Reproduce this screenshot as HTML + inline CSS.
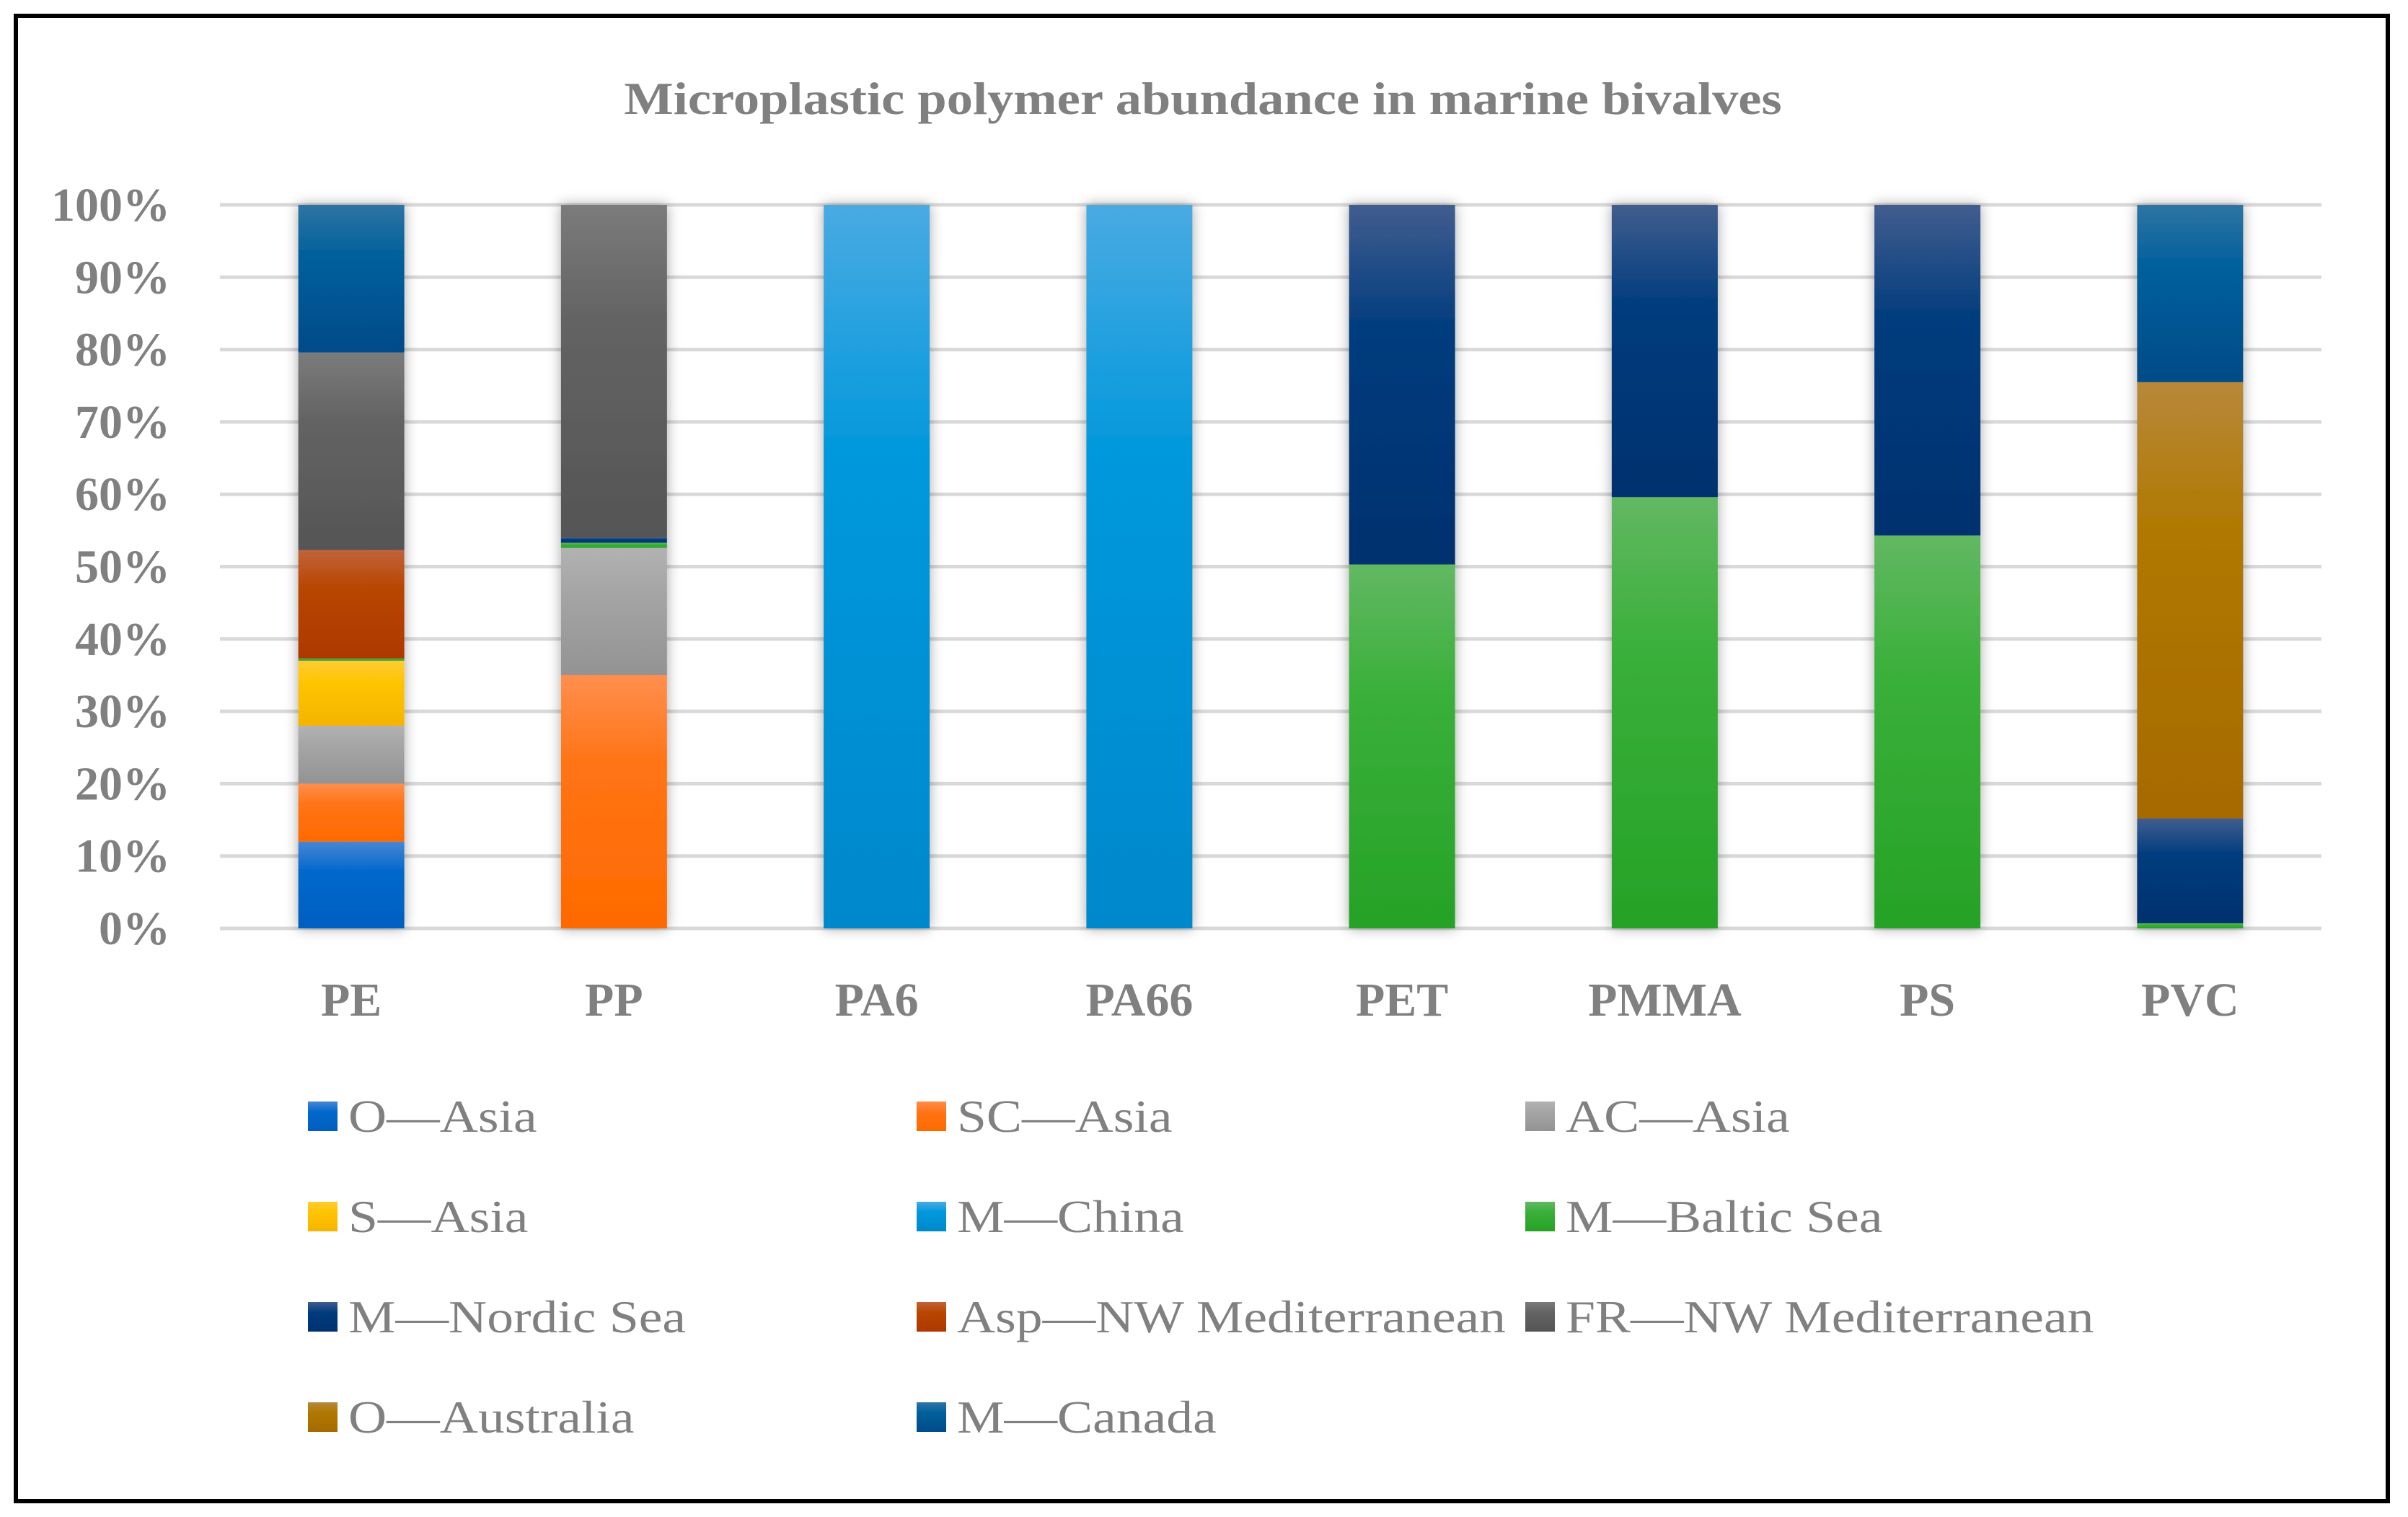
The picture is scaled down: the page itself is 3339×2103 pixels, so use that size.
<!DOCTYPE html>
<html><head><meta charset="utf-8"><style>
html,body{margin:0;padding:0;background:#fff;}
#wrap{position:relative;width:3339px;height:2103px;overflow:hidden;}
svg text{font-family:"Liberation Serif",serif;fill:#808080;}
</style></head><body>
<div id="wrap">
<svg id="chart" width="3339" height="2103">
<defs id="defs"></defs>
<rect x="22" y="22" width="3289" height="2059" fill="none" stroke="#000" stroke-width="6"/>
<text id="title" x="1668" y="158" text-anchor="middle" font-size="63" font-weight="bold">Microplastic polymer abundance in marine bivalves</text>
<g id="grid"></g><g id="bars"></g><g id="ylabels"></g><g id="xlabels"></g><g id="legend"></g>
</svg>
</div>
<script>
const categories = ["PE","PP","PA6","PA66","PET","PMMA","PS","PVC"];
const seriesNames = ["O\u2014Asia","SC\u2014Asia","AC\u2014Asia","S\u2014Asia","M\u2014China","M\u2014Baltic Sea","M\u2014Nordic Sea","Asp\u2014NW Mediterranean","FR\u2014NW Mediterranean","O\u2014Australia","M\u2014Canada"];
const sOAsia      = [12, 0, 0, 0, 0, 0, 0, 0];
const sSCAsia     = [8, 35, 0, 0, 0, 0, 0, 0];
const sACAsia     = [8, 17.6, 0, 0, 0, 0, 0, 0];
const sSAsia      = [9, 0, 0, 0, 0, 0, 0, 0];
const sMChina     = [0, 0, 100, 100, 0, 0, 0, 0];
const sMBaltic    = [0.3, 0.7, 0, 0, 50.3, 59.6, 54.3, 0.7];
const sMNordic    = [0, 0.7, 0, 0, 49.7, 40.4, 45.7, 14.5];
const sAspNW      = [15, 0, 0, 0, 0, 0, 0, 0];
const sFRNW       = [27.3, 46, 0, 0, 0, 0, 0, 0];
const sOAustralia = [0, 0, 0, 0, 0, 0, 0, 60.3];
const sMCanada    = [20.4, 0, 0, 0, 0, 0, 0, 24.5];
const seriesValues = [sOAsia,sSCAsia,sACAsia,sSAsia,sMChina,sMBaltic,sMNordic,sAspNW,sFRNW,sOAustralia,sMCanada];
const yTicks = [0,10,20,30,40,50,60,70,80,90,100];

const colors = [["#4a86d4","#0068cc","#005fc0"],["#ff8f4e","#ff7415","#ff6a00"],["#b2b2b2","#a5a5a5","#939393"],["#ffcc33","#ffc400","#f5b400"],["#4aaae2","#0098dc","#0088cc"],["#62b862","#3ab03a","#26a226"],["#415d8e","#003c7e","#00316f"],["#c1633c","#b84600","#ae3800"],["#7b7b7b","#636363","#555555"],["#b8883a","#b07800","#a66a00"],["#2e74a3","#00609c","#004b88"]];

const NS="http://www.w3.org/2000/svg";
const plotL=305, plotR=3219, y0=1287, y100=284;
const bandW=(plotR-plotL)/categories.length, barW=147;
function yScale(v){return y0-(y0-y100)*v/100;}
function xCenter(i){return plotL+bandW*(i+0.5);}
function mk(tag,attrs,parent){const e=document.createElementNS(NS,tag);for(const k in attrs)e.setAttribute(k,attrs[k]);parent.appendChild(e);return e;}
function stretch(t,f){const w=t.getComputedTextLength();t.setAttribute('textLength',w*f);t.setAttribute('lengthAdjust','spacingAndGlyphs');}

const defs=document.getElementById('defs');
colors.forEach((c,i)=>{
  const g=mk('linearGradient',{id:'g'+i,x1:0,y1:0,x2:0,y2:1},defs);
  mk('stop',{offset:'0',  'stop-color':c[0]},g);
  mk('stop',{offset:'0.35','stop-color':c[1]},g);
  mk('stop',{offset:'1','stop-color':c[2]},g);
});
const f=mk('filter',{id:'sh',x:'-30%',y:'-5%',width:'160%',height:'110%'},defs);
mk('feDropShadow',{dx:0,dy:0,stdDeviation:9,'flood-color':'#000','flood-opacity':0.35},f);

stretch(document.getElementById('title'),1.15);

const grid=document.getElementById('grid');
const yl=document.getElementById('ylabels');
yTicks.forEach(t=>{
  const l=mk('line',{x1:plotL,x2:plotR,y1:yScale(t),y2:yScale(t),stroke:'#d9d9d9','stroke-width':5},grid);
  
  
  const tx=mk('text',{x:236,y:yScale(t)+22,'text-anchor':'end','font-size':66,'font-weight':'bold'},yl);
  tx.textContent=t+'%';
  
  
});

const bars=document.getElementById('bars');
const xl=document.getElementById('xlabels');
categories.forEach((cat,i)=>{
  const grp=mk('g',{filter:'url(#sh)'},bars);
  
  
  let acc=0;
  seriesValues.forEach((vals,s)=>{
    const v=vals[i]; if(!v) return;
    const yt=yScale(acc+v), yb=yScale(acc);
    const r=mk('rect',{x:xCenter(i)-barW/2,y:yt,width:barW,height:yb-yt,fill:'url(#g'+s+')'},grp);
    
    
    acc+=v;
  });
  const tx=mk('text',{x:xCenter(i),y:1408,'text-anchor':'middle','font-size':66,'font-weight':'bold'},xl);
  tx.textContent=cat;
  
  
});

const lg=document.getElementById('legend');
const colX=[427,1271,2115], rowY=[1527,1666,1805,1944];
seriesNames.forEach((n,i)=>{
  const x=colX[i%3], y=rowY[Math.floor(i/3)];
  const g=mk('g',{},lg);
  
  
  const r=mk('rect',{x:x,y:y,width:41,height:41,fill:'url(#g'+i+')'},g);
  
  
  const t=mk('text',{x:x+56,y:y+42,'font-size':64},g);
  t.textContent=n;
  
  
  stretch(t,1.15);
});
</script>
</body></html>
